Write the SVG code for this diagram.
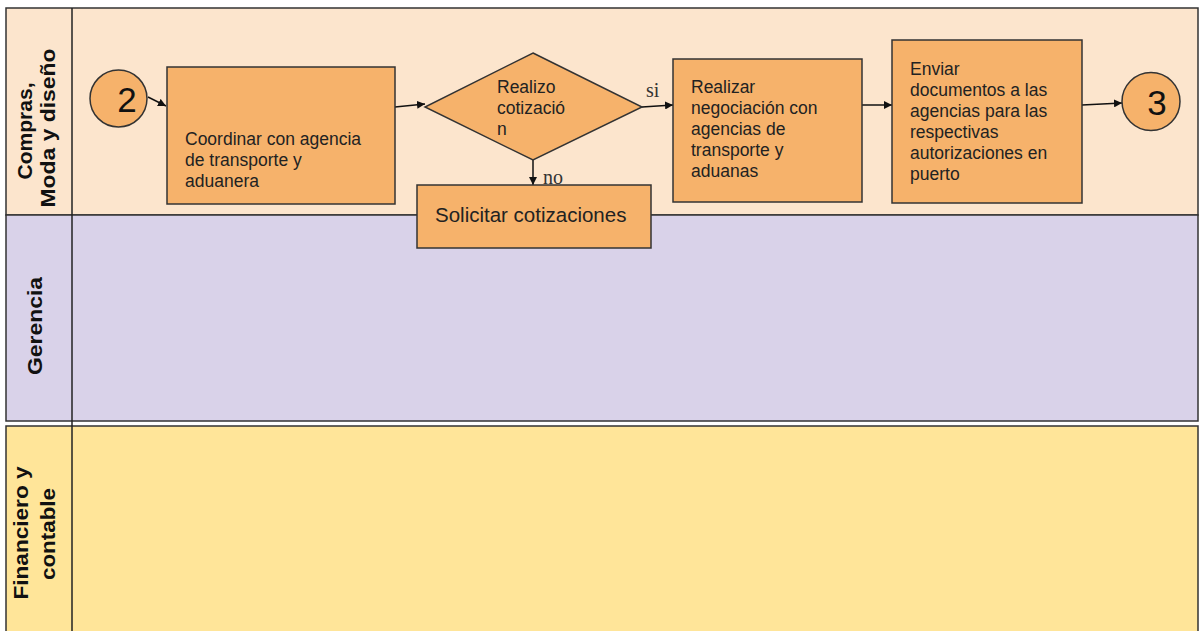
<svg xmlns="http://www.w3.org/2000/svg" width="1200" height="631" viewBox="0 0 1200 631">
<style>
.lane{stroke:#333;stroke-width:1.5}
.node{fill:#F6B26B;stroke:#333;stroke-width:1.5}
.t{font-family:"Liberation Sans",Arial,sans-serif;font-size:17.5px;fill:#222}
.lab{font-family:"Liberation Sans",Arial,sans-serif;font-size:21px;font-weight:bold;fill:#111}
.num{font-family:"Liberation Sans",Arial,sans-serif;font-size:35px;fill:#111}
.s{font-family:"Liberation Serif","Times New Roman",serif;font-size:20px;fill:#333}
.c{stroke:#111;stroke-width:1.5;fill:none;marker-end:url(#ah)}
</style>
<defs>
<marker id="ah" viewBox="0 0 10 10" refX="10" refY="5" markerWidth="8" markerHeight="8" markerUnits="userSpaceOnUse" orient="auto">
<path d="M0,0 L10,5 L0,10 z" fill="#111"/>
</marker>
</defs>
<rect width="1200" height="631" fill="#fff"/>
<g id="lanes">
<rect class="lane" x="6" y="8" width="1192" height="207" fill="#FCE5CD"/>
<rect class="lane" x="6" y="215" width="1192" height="206" fill="#D9D2E9"/>
<rect class="lane" x="6" y="426" width="1192" height="210" fill="#FFE599"/>
<line x1="72" y1="8" x2="72" y2="631" stroke="#222" stroke-width="1.5"/>
<text class="lab" transform="translate(32,131) rotate(-90)" text-anchor="middle" textLength="97" lengthAdjust="spacingAndGlyphs">Compras,</text>
<text class="lab" transform="translate(55,128) rotate(-90)" text-anchor="middle" textLength="159" lengthAdjust="spacingAndGlyphs">Moda y diseño</text>
<text class="lab" transform="translate(42,326) rotate(-90)" text-anchor="middle" textLength="98" lengthAdjust="spacingAndGlyphs">Gerencia</text>
<text class="lab" transform="translate(28,533) rotate(-90)" text-anchor="middle" textLength="133" lengthAdjust="spacingAndGlyphs">Financiero y</text>
<text class="lab" transform="translate(55,534) rotate(-90)" text-anchor="middle" textLength="92" lengthAdjust="spacingAndGlyphs">contable</text>
</g>
<g id="connectors">
<line class="c" x1="148" y1="97" x2="166" y2="106"/>
<line class="c" x1="395" y1="107" x2="425" y2="104"/>
<line class="c" x1="642" y1="107" x2="673" y2="105"/>
<line class="c" x1="533" y1="160" x2="533" y2="185"/>
<line class="c" x1="862" y1="105" x2="892" y2="105"/>
<line class="c" x1="1082" y1="105" x2="1122" y2="103"/>
<text class="s" x="646" y="97">si</text>
<text class="s" x="543" y="184">no</text>
</g>
<g id="start2">
<circle class="node" cx="118.5" cy="98.5" r="28.5"/>
<text class="num" x="127" y="112" text-anchor="middle">2</text>
</g>
<g id="coordinar">
<rect class="node" x="167" y="67" width="228" height="137"/>
<text class="t"><tspan x="185" y="145">Coordinar con agencia</tspan><tspan x="185" y="166">de transporte y</tspan><tspan x="185" y="187">aduanera</tspan></text>
</g>
<g id="decision">
<polygon class="node" points="533,53 642,107 533,160 425,107"/>
<text class="t"><tspan x="497" y="93">Realizo</tspan><tspan x="497" y="114">cotizació</tspan><tspan x="497" y="135">n</tspan></text>
</g>
<g id="solicitar">
<rect class="node" x="417" y="185" width="234" height="63"/>
<text class="t" x="435" y="222" style="font-size:20.5px">Solicitar cotizaciones</text>
</g>
<g id="negociacion">
<rect class="node" x="673" y="59" width="189" height="143"/>
<text class="t"><tspan x="691" y="93">Realizar</tspan><tspan x="691" y="114">negociación con</tspan><tspan x="691" y="135">agencias de</tspan><tspan x="691" y="156">transporte y</tspan><tspan x="691" y="177">aduanas</tspan></text>
</g>
<g id="enviar">
<rect class="node" x="892" y="40" width="190" height="163"/>
<text class="t"><tspan x="910" y="75">Enviar</tspan><tspan x="910" y="96">documentos a las</tspan><tspan x="910" y="117">agencias para las</tspan><tspan x="910" y="138">respectivas</tspan><tspan x="910" y="159">autorizaciones en</tspan><tspan x="910" y="180">puerto</tspan></text>
</g>
<g id="end3">
<circle class="node" cx="1151" cy="101.5" r="29"/>
<text class="num" x="1157" y="115" text-anchor="middle">3</text>
</g>
</svg>
